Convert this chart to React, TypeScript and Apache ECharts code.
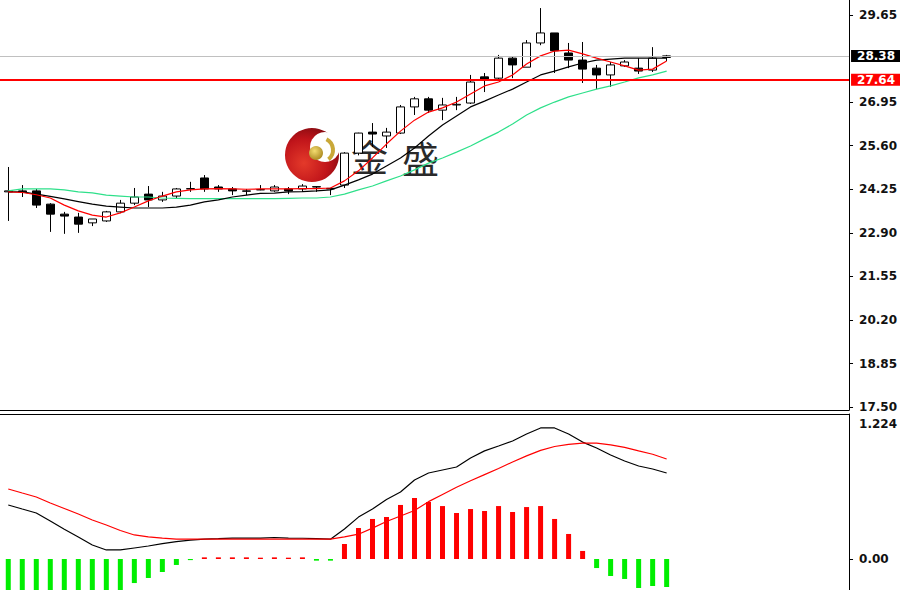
import React, { useEffect, useRef } from 'react';
import * as echarts from 'echarts';

// ---- price candles (open, close, low, high) ----
const opens = [24.17, 24.20, 24.20, 23.79, 23.48, 23.39, 23.21, 23.27, 23.55, 23.82, 24.10, 23.92, 24.04, 24.26, 24.60, 24.32, 24.26, 24.20, 24.23, 24.20, 24.26, 24.26, 24.33, 24.28, 24.38, 25.37, 26.02, 25.90, 25.99, 26.80, 27.05, 26.70, 26.86, 26.92, 27.73, 27.69, 28.31, 28.03, 28.78, 29.09, 28.47, 28.25, 28.00, 27.79, 28.07, 28.00, 27.94, 28.33];
const closes = [24.20, 24.17, 23.76, 23.48, 23.42, 23.17, 23.33, 23.55, 23.82, 24.01, 23.92, 24.04, 24.26, 24.27, 24.26, 24.26, 24.20, 24.19, 24.24, 24.32, 24.20, 24.35, 24.32, 24.26, 25.37, 25.99, 25.96, 26.02, 26.80, 27.05, 26.70, 26.86, 26.88, 27.57, 27.63, 28.31, 28.10, 28.78, 29.09, 28.54, 28.25, 27.97, 27.79, 28.10, 28.19, 27.91, 28.31, 28.38];
const lows = [23.27, 24.01, 23.67, 22.93, 22.87, 22.90, 23.11, 23.24, 23.51, 23.76, 23.70, 23.86, 23.98, 24.17, 24.17, 24.17, 24.07, 24.07, 24.22, 24.17, 24.10, 24.17, 24.17, 24.07, 24.29, 25.30, 25.56, 25.53, 25.96, 26.55, 26.61, 26.39, 26.70, 26.89, 27.26, 27.66, 27.69, 28.03, 28.71, 27.85, 28.00, 27.54, 27.35, 27.42, 28.04, 27.82, 27.88, 28.22];
const highs = [24.94, 24.38, 24.26, 23.82, 23.55, 23.52, 23.33, 23.58, 23.92, 24.29, 24.35, 24.17, 24.29, 24.48, 24.69, 24.38, 24.32, 24.26, 24.38, 24.38, 24.32, 24.41, 24.34, 24.29, 25.40, 26.00, 26.30, 26.15, 26.86, 27.11, 27.11, 27.08, 27.11, 27.79, 27.85, 28.41, 28.35, 28.87, 29.86, 29.09, 28.78, 28.81, 28.10, 28.19, 28.25, 28.31, 28.65, 28.41];

// ---- moving averages ----
const maFast = [24.17, 24.15, 24.08, 23.98, 23.76, 23.58, 23.45, 23.39, 23.52, 23.70, 23.89, 24.04, 24.17, 24.23, 24.26, 24.27, 24.26, 24.25, 24.26, 24.26, 24.26, 24.27, 24.27, 24.29, 24.51, 24.82, 25.22, 25.65, 26.05, 26.39, 26.64, 26.77, 26.95, 27.20, 27.45, 27.57, 27.79, 28.13, 28.38, 28.53, 28.56, 28.44, 28.31, 28.19, 28.07, 27.94, 27.97, 28.22];
const maMid = [24.17, 24.17, 24.10, 24.03, 23.95, 23.87, 23.79, 23.73, 23.70, 23.67, 23.67, 23.67, 23.70, 23.76, 23.86, 23.92, 24.01, 24.07, 24.12, 24.13, 24.17, 24.18, 24.20, 24.23, 24.38, 24.54, 24.72, 24.97, 25.22, 25.53, 25.90, 26.24, 26.52, 26.80, 26.98, 27.17, 27.35, 27.57, 27.79, 27.91, 28.04, 28.16, 28.25, 28.28, 28.31, 28.31, 28.31, 28.31];
const maSlow = [24.20, 24.26, 24.26, 24.26, 24.23, 24.17, 24.14, 24.07, 24.04, 24.01, 24.01, 23.98, 23.97, 23.96, 23.96, 23.96, 23.96, 23.96, 23.96, 23.96, 23.97, 23.98, 23.98, 24.01, 24.10, 24.23, 24.35, 24.51, 24.66, 24.85, 25.06, 25.22, 25.40, 25.59, 25.81, 26.02, 26.27, 26.55, 26.77, 26.95, 27.11, 27.23, 27.35, 27.45, 27.57, 27.70, 27.79, 27.91];

// ---- MACD panel ----
const macdHist = [-0.45, -0.46, -0.47, -0.46, -0.44, -0.41, -0.38, -0.34, -0.30, -0.218, -0.172, -0.118, -0.054, -0.01, 0.015, 0.015, 0.015, 0.015, 0.012, 0.015, 0.012, 0.015, -0.015, -0.015, 0.136, 0.281, 0.363, 0.381, 0.49, 0.553, 0.517, 0.48, 0.417, 0.453, 0.435, 0.48, 0.426, 0.471, 0.48, 0.363, 0.227, 0.073, -0.082, -0.154, -0.181, -0.263, -0.245, -0.254];
const macdDif = [0.49, 0.453, 0.417, 0.345, 0.27, 0.20, 0.127, 0.082, 0.082, 0.10, 0.118, 0.14, 0.158, 0.172, 0.181, 0.185, 0.19, 0.19, 0.19, 0.195, 0.19, 0.188, 0.185, 0.18, 0.272, 0.38, 0.453, 0.54, 0.607, 0.716, 0.78, 0.807, 0.834, 0.916, 0.98, 1.024, 1.07, 1.133, 1.188, 1.188, 1.133, 1.06, 1.006, 0.943, 0.888, 0.843, 0.816, 0.78];
const macdDea = [0.635, 0.598, 0.562, 0.508, 0.458, 0.408, 0.354, 0.308, 0.258, 0.218, 0.20, 0.19, 0.181, 0.181, 0.181, 0.181, 0.181, 0.181, 0.181, 0.181, 0.181, 0.181, 0.181, 0.181, 0.20, 0.225, 0.28, 0.34, 0.39, 0.44, 0.52, 0.585, 0.65, 0.71, 0.765, 0.82, 0.88, 0.935, 0.985, 1.02, 1.04, 1.05, 1.05, 1.035, 1.012, 0.98, 0.95, 0.907];

// ---- axis labels ----
const priceTicks = [29.65, 26.95, 25.6, 24.25, 22.9, 21.55, 20.2, 18.85, 17.5];
const macdLabelValues = [1.224, 0];
const macdLabelTexts = ['1.224', '0.00'];
const bidPrice = 28.38;
const levelPrice = 27.64;

const FONT = 'DejaVu Sans';

export default function App() {
  const ref = useRef<HTMLDivElement>(null);

  useEffect(() => {
    document.body.style.margin = '0';
    if (!ref.current) return;
    const chart = echarts.init(ref.current, undefined, { renderer: 'svg' });

    const candleData = opens.map((o, i) => [i, o, closes[i], lows[i], highs[i]]);
    const pair = (arr: number[]) => arr.map((v, i) => [i, v]);
    const histData = macdHist.map((v, i) => ({
      value: [i, v],
      itemStyle: { color: v >= 0 ? '#ff0000' : '#00ee00' },
    }));

    const labelStyle = {
      fontFamily: FONT,
      fontSize: 12,
      fontWeight: 'bold' as const,
      color: '#111',
    };

    const markLabel = (bg: string) => ({
      show: true,
      position: 'end' as const,
      distance: 2,
      formatter: (p: any) => Number(p.value).toFixed(2),
      backgroundColor: bg,
      color: '#fff',
      fontFamily: FONT,
      fontSize: 12,
      fontWeight: 'bold' as const,
      padding: [0, 6, 0, 6],
    });

    const option: any = {
      animation: false,
      backgroundColor: '#ffffff',
      grid: [
        { left: 0, top: 0, width: 851, height: 410 },
        { left: 0, top: 414, width: 851, height: 176 },
      ],
      xAxis: [
        {
          type: 'value', gridIndex: 0, min: -0.59, max: 60.02,
          axisLine: { show: true, onZero: false, lineStyle: { color: '#000', width: 1 } },
          axisTick: { show: false }, axisLabel: { show: false }, splitLine: { show: false },
        },
        {
          type: 'value', gridIndex: 1, min: -0.59, max: 60.02, position: 'top',
          axisLine: { show: true, onZero: false, lineStyle: { color: '#000', width: 1 } },
          axisTick: { show: false }, axisLabel: { show: false }, splitLine: { show: false },
        },
      ],
      yAxis: [
        {
          type: 'value', gridIndex: 0, position: 'right', min: 17.416, max: 30.11,
          axisLine: { show: true, onZero: false, lineStyle: { color: '#000', width: 1 } },
          axisTick: { show: true, length: 4, customValues: priceTicks, lineStyle: { color: '#000' } },
          axisLabel: { show: true, customValues: priceTicks, margin: 10, formatter: (v: number) => v.toFixed(2), ...labelStyle },
          splitLine: { show: false },
        },
        {
          type: 'value', gridIndex: 1, position: 'right', min: -0.281, max: 1.3146,
          axisLine: { show: true, onZero: false, lineStyle: { color: '#000', width: 1 } },
          axisTick: { show: true, length: 4, customValues: [0], lineStyle: { color: '#000' } },
          axisLabel: {
            show: true, customValues: macdLabelValues, margin: 10,
            formatter: (v: number) => {
              const k = macdLabelValues.findIndex((m) => Math.abs(m - v) < 1e-6);
              return k >= 0 ? macdLabelTexts[k] : '';
            },
            ...labelStyle,
          },
          splitLine: { show: false },
        },
      ],
      graphic: [
        {
          type: 'circle', z: 0, silent: true,
          shape: { cx: 312, cy: 155, r: 27 },
          style: {
            fill: new echarts.graphic.RadialGradient(0.35, 0.65, 0.75, [
              { offset: 0, color: '#e43a2a' },
              { offset: 0.6, color: '#c0141a' },
              { offset: 1, color: '#7e0a10' },
            ]),
          },
        },
        {
          type: 'circle', z: 0, silent: true,
          shape: { cx: 325, cy: 147, r: 15 },
          style: { fill: '#ffffff' },
        },
        {
          type: 'arc', z: 0, silent: true,
          shape: { cx: 321, cy: 150, r: 12, startAngle: -1.1, endAngle: 0.9 },
          style: { stroke: '#c9a838', lineWidth: 4, fill: 'none' },
        },
        {
          type: 'circle', z: 0, silent: true,
          shape: { cx: 316, cy: 153, r: 7 },
          style: {
            fill: new echarts.graphic.RadialGradient(0.4, 0.35, 0.7, [
              { offset: 0, color: '#f4dc70' },
              { offset: 1, color: '#a8861e' },
            ]),
          },
        },
        {
          type: 'text', z: 0, silent: true, x: 351, y: 156,
          style: { text: '金', fill: '#2a2a2a', font: '37px "Noto Sans CJK SC"', verticalAlign: 'middle', align: 'left' },
        },
        {
          type: 'text', z: 0, silent: true, x: 402, y: 158,
          style: { text: '盛', fill: '#2a2a2a', font: '37px "Noto Sans CJK SC"', verticalAlign: 'middle', align: 'left' },
        },
      ],
      series: [
        {
          type: 'candlestick', xAxisIndex: 0, yAxisIndex: 0,
          data: candleData,
          barWidth: 8,
          itemStyle: {
            color: '#ffffff', color0: '#000000',
            borderColor: '#000000', borderColor0: '#000000', borderWidth: 1,
          },
          markLine: {
            silent: true, symbol: ['none', 'none'], animation: false,
            data: [
              { yAxis: bidPrice, lineStyle: { color: '#c0c0c0', width: 1, type: 'solid' }, label: markLabel('#000000') },
              { yAxis: levelPrice, lineStyle: { color: '#ff0000', width: 2, type: 'solid' }, label: markLabel('#ff0000') },
            ],
          },
        },
        { type: 'line', xAxisIndex: 0, yAxisIndex: 0, data: pair(maSlow), symbol: 'none', lineStyle: { color: '#2ee08a', width: 1.2 } },
        { type: 'line', xAxisIndex: 0, yAxisIndex: 0, data: pair(maMid), symbol: 'none', lineStyle: { color: '#000000', width: 1.2 } },
        { type: 'line', xAxisIndex: 0, yAxisIndex: 0, data: pair(maFast), symbol: 'none', lineStyle: { color: '#ff0000', width: 1.2 } },
        { type: 'bar', xAxisIndex: 1, yAxisIndex: 1, data: histData, barWidth: 5 },
        { type: 'line', xAxisIndex: 1, yAxisIndex: 1, data: pair(macdDif), symbol: 'none', lineStyle: { color: '#000000', width: 1.2 } },
        { type: 'line', xAxisIndex: 1, yAxisIndex: 1, data: pair(macdDea), symbol: 'none', lineStyle: { color: '#ff0000', width: 1.2 } },
      ],
    };

    chart.setOption(option);
    return () => chart.dispose();
  }, []);

  return <div ref={ref} style={{ position: 'fixed', left: 0, top: 0, width: 900, height: 590, background: '#fff' }} />;
}
